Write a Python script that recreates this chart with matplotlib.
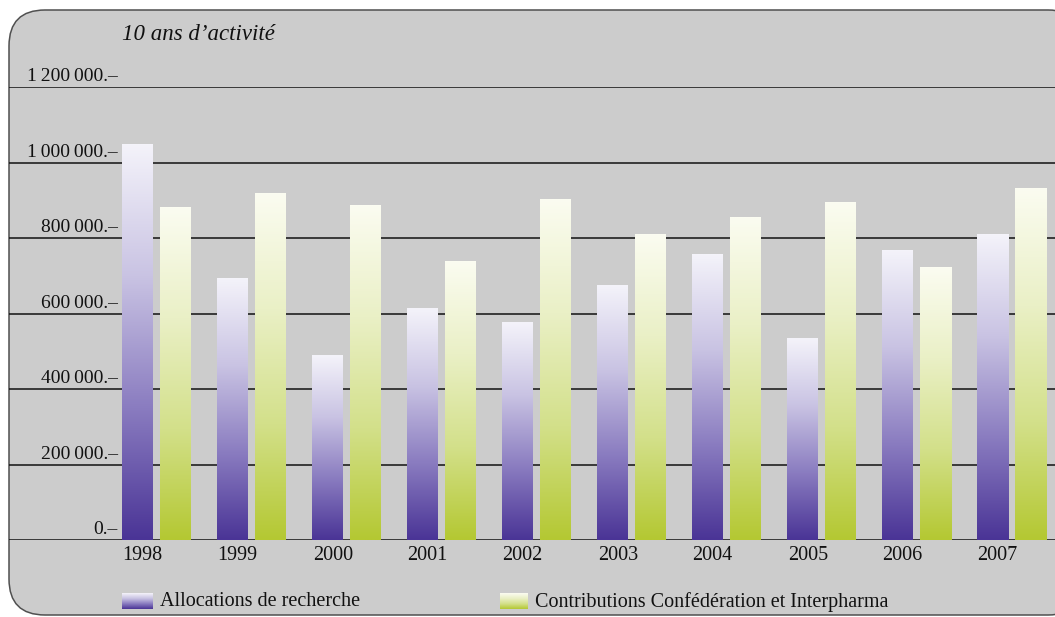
"""10 ans d'activité: allocations vs contributions, gradient bars."""

import numpy as np
import matplotlib.pyplot as plt
from matplotlib.colors import LinearSegmentedColormap
from matplotlib.patches import FancyBboxPatch

years = ["1998", "1999", "2000", "2001", "2002", "2003", "2004", "2005", "2006", "2007"]
allocations = [1049000, 694000, 490000, 612000, 575000, 673000, 755000, 535000, 766000, 808000]
contributions = [882000, 917000, 885000, 739000, 903000, 808000, 853000, 893000, 721000, 930000]
yticks = [0, 200000, 400000, 600000, 800000, 1000000, 1200000]
ytick_labels = ["0.–", "200\u2009000.–", "400\u2009000.–", "600\u2009000.–", "800\u2009000.–",
                "1\u2009000\u2009000.–", "1\u2009200\u2009000.–"]
title = "10 ans d\u2019activité"
legend_labels = ["Allocations de recherche", "Contributions Confédération et Interpharma"]

W, H = 1055, 617
FONT = ["Liberation Serif", "DejaVu Serif"]

purple = LinearSegmentedColormap.from_list("purple", ["#4a3496", "#8a7cc0", "#c9c3e3", "#f4f3fa"])
green = LinearSegmentedColormap.from_list("green", ["#b4c832", "#d3e08a", "#eaf0c6", "#fbfcf1"])

fig = plt.figure(figsize=(W / 100, H / 100), dpi=100)
fig.patch.set_facecolor("white")

# background frame in pixel coordinates
bg = fig.add_axes([0, 0, 1, 1])
bg.set_xlim(0, W)
bg.set_ylim(H, 0)
bg.axis("off")
bg.add_patch(FancyBboxPatch((9, 10), 1075, 605,
                            boxstyle="round,pad=0,rounding_size=36",
                            facecolor="#cccccc", edgecolor="#505050", lw=1.1))

x_left, x_right = 9, W
y0_px, ytop_px = 540, 87
group0, spacing = 156.5, 95.0
ax = fig.add_axes([x_left / W, (H - y0_px) / H, (x_right - x_left) / W, (y0_px - ytop_px) / H])
ax.set_facecolor("none")
ax.axis("off")

for v, lab in zip(yticks, ytick_labels):
    ax.axhline(v, color="#111111", lw=1.1, zorder=1)
    ax.text((118 - group0) / spacing, v + 4500, lab,
            ha="right", va="bottom", fontsize=14, family=FONT, color="#111111")

grad = np.linspace(0, 1, 256).reshape(-1, 1)
bw = 31 / spacing
off = 19 / spacing
x = np.arange(len(years))
for i in x:
    for val, cmap, dx in ((allocations[i], purple, -off), (contributions[i], green, off)):
        ax.imshow(grad, extent=[i + dx - bw / 2, i + dx + bw / 2, 0, val],
                  origin="lower", aspect="auto", cmap=cmap, zorder=3)
    ax.text(i - 0.145, -17000, years[i], ha="center", va="top",
            fontsize=14.5, family=FONT, color="#111111")
ax.set_xlim((x_left - group0) / spacing, (x_right - group0) / spacing)
ax.set_ylim(0, 1200000)

# title and legend in pixel space
bg.text(122, 35, title, ha="left", va="center", fontsize=16.5, style="italic",
        family=FONT, color="#111111")
for (px, pw, label) in ((122, 31, legend_labels[0]), (500, 28, legend_labels[1])):
    cmap = purple if px < 300 else green
    bg.imshow(grad, extent=[px, px + pw, 609, 593], origin="lower", aspect="auto",
              cmap=cmap, zorder=3)
    bg.text(px + pw + 7, 602, label, ha="left", va="center", fontsize=14.5,
            family=FONT, color="#111111")
bg.set_xlim(0, W)
bg.set_ylim(H, 0)

fig.savefig("out.png", dpi=100)
